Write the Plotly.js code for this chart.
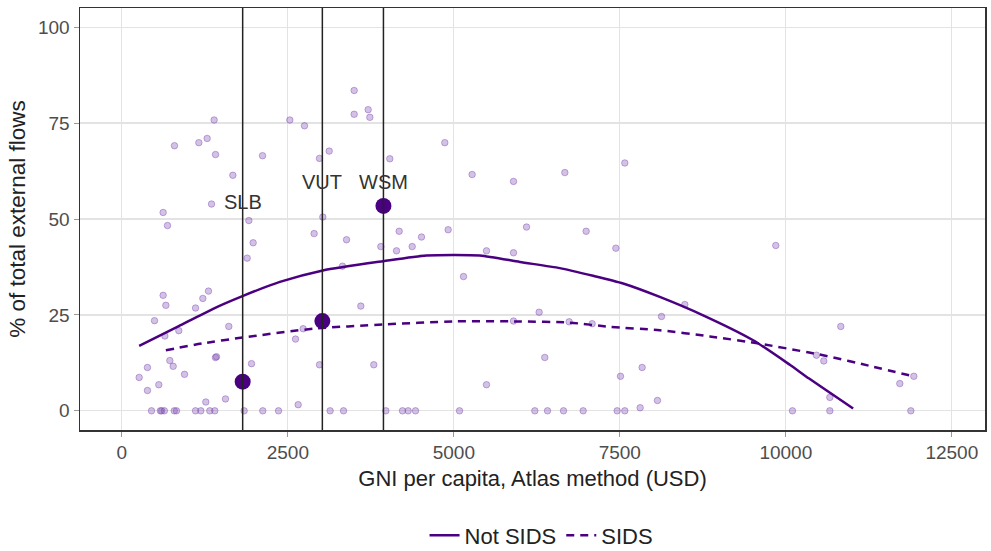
<!DOCTYPE html>
<html>
<head>
<meta charset="utf-8">
<script src="https://cdn.plot.ly/plotly-3.0.1.min.js"></script>
<style>html,body{margin:0;padding:0;background:#fff;}#chart{width:991px;height:551px;}</style>
</head>
<body>
<div id="chart"></div>
<script>
// Country observations: GNI per capita (USD) and % of total external flows
const gni = [1390, 793, 1160, 1285, 1411, 1672, 2119, 2530, 2751, 2977, 3123, 1351, 622, 1913, 3027,
  3499, 3499, 3710, 3735, 4036, 4864, 5276, 5899, 6672, 7575,
  688, 1978, 1888, 2896, 622, 663, 1305, 1220, 1110, 492, 1611, 858, 648, 2731, 2616, 1426, 1410,
  723, 773, 386, 261, 944, 1953, 2977, 557, 386, 1561, 1265, 2656,
  447, 580, 600, 640, 790, 823, 1110, 1190, 1325, 1400, 1842, 2123, 2360, 3137, 3339,
  4177, 4513, 4915, 6095, 3384, 3901, 4373, 4137, 5492, 5899, 3323, 5146, 3599, 6285, 5899, 6737,
  3795, 6370, 5492,
  3976, 4227, 4312, 4423, 5086, 6220, 6411, 6652,
  6993, 7440, 8479, 8128, 7083, 9849, 7836, 7510, 8067, 7806,
  6948, 7460, 7575, 10100,
  10828, 10572, 10462, 10663, 11717, 11928, 10663, 11883];
const share = [75.8, 69.1, 69.9, 71.0, 66.8, 61.4, 66.5, 75.8, 74.3, 65.8, 67.7, 53.9, 51.7, 49.6, 50.5,
  83.5, 77.3, 78.5, 76.5, 65.7, 69.9, 61.6, 59.8, 62.1, 64.6,
  48.3, 43.8, 39.8, 46.2, 30.1, 27.5, 31.2, 29.3, 26.8, 23.5, 22.0, 20.9, 19.5, 21.4, 18.7, 14.1, 13.9,
  13.1, 11.6, 11.3, 8.7, 9.5, 12.3, 12.0, 6.8, 5.3, 3.1, 2.3, 1.6,
  0, 0, 0, 0, 0, 0, 0, 0, 0, 0, 0, 0, 0, 0, 0,
  46.8, 45.3, 47.2, 47.9, 44.6, 42.8, 42.8, 41.7, 41.7, 41.2, 37.7, 35.0, 27.3, 25.7, 23.4, 23.2,
  12.0, 13.9, 6.8,
  0, 0, 0, 0, 0, 0, 0, 0,
  46.8, 42.4, 27.7, 24.6, 22.7, 43.1, 11.3, 9.0, 2.7, 0.8,
  0, 0, 0, 0,
  22.0, 13.0, 14.5, 3.5, 7.1, 9.0, 0, 0];

// Smoothed fits
const fitNotSidsX = [261, 858, 1375, 1817, 2380, 3027, 3936, 4588, 5392, 5994, 6596, 7098, 7550, 8102, 8755, 9508, 10060, 10351, 11014];
const fitNotSidsY = [16.9, 22.1, 26.6, 29.9, 33.6, 36.6, 39.0, 40.5, 40.5, 38.8, 37.2, 35.2, 33.2, 29.7, 24.9, 18.4, 12.0, 8.4, 0.6];
const fitSidsX = [663, 1225, 1817, 2881, 3936, 4991, 5994, 6737, 7349, 8102, 8855, 9608, 10351, 10562, 11316, 11917];
const fitSidsY = [15.8, 17.6, 19.1, 21.4, 22.5, 23.3, 23.3, 23.0, 21.9, 21.0, 19.4, 17.5, 15.2, 14.5, 11.5, 9.0];

// Highlighted countries
const hlCodes = ['SLB', 'VUT', 'WSM'];
const hlGni = [1820, 3020, 3940];
const hlShare = [7.6, 23.4, 53.4];
const hlLabelY = [54.4, 59.6, 59.6];

// Axis ticks
const xTicks = [0, 2500, 5000, 7500, 10000, 12500];
const yTicks = [0, 25, 50, 75, 100];

const purple = '#4B0082';
const FONT = 'Liberation Sans, Arial, sans-serif';

const traces = [
  {x: gni, y: share, type: 'scatter', mode: 'markers', showlegend: false, hoverinfo: 'skip',
   marker: {size: 6.5, color: 'rgba(120,70,175,0.33)', line: {width: 1, color: 'rgba(120,70,175,0.42)'}}},
  {x: fitNotSidsX, y: fitNotSidsY, type: 'scatter', mode: 'lines', name: 'Not SIDS',
   line: {color: purple, width: 2.5, shape: 'spline', smoothing: 0.6}},
  {x: fitSidsX, y: fitSidsY, type: 'scatter', mode: 'lines', name: 'SIDS',
   line: {color: purple, width: 2.5, dash: '8px,6px', shape: 'spline', smoothing: 0.6}},
  {x: hlGni, y: hlShare, type: 'scatter', mode: 'markers', showlegend: false,
   marker: {size: 16, color: purple}}
];

const shapes = hlGni.map(v => ({type: 'line', xref: 'x', yref: 'paper', x0: v, x1: v, y0: 0, y1: 1,
  line: {color: '#222', width: 1.5}, layer: 'above'}));

const annotations = hlCodes.map((c, i) => ({x: hlGni[i], y: hlLabelY[i], xref: 'x', yref: 'y', text: c,
  showarrow: false, font: {family: FONT, size: 20, color: '#333'}, bgcolor: 'rgba(0,0,0,0)'}));

const layout = {
  width: 991, height: 551,
  margin: {l: 80, r: 6, t: 8, b: 121, autoexpand: false},
  paper_bgcolor: '#fff', plot_bgcolor: '#fff',
  font: {family: FONT, color: '#333'},
  xaxis: {range: [-630, 13000], tickvals: xTicks, ticktext: xTicks.map(String),
    showgrid: true, gridcolor: '#e3e3e3', gridwidth: 1.2, zeroline: false,
    showline: true, mirror: true, linecolor: '#333', linewidth: 1.5,
    ticks: 'outside', ticklen: 5, tickcolor: '#999', tickfont: {family: FONT, size: 19, color: '#4d4d4d'},
    title: {text: 'GNI per capita, Atlas method (USD)', font: {family: FONT, size: 22, color: '#222'}, standoff: 8}},
  yaxis: {range: [-5, 105], tickvals: yTicks, ticktext: yTicks.map(String),
    showgrid: true, gridcolor: '#e3e3e3', gridwidth: 1.2, zeroline: false,
    showline: true, mirror: true, linecolor: '#333', linewidth: 1.5,
    ticks: 'outside', ticklen: 5, tickcolor: '#999', tickfont: {family: FONT, size: 19, color: '#4d4d4d'},
    title: {text: '% of total external flows', font: {family: FONT, size: 22.5, color: '#222'}, standoff: 6}},
  legend: {orientation: 'h', x: 0.51, xanchor: 'center', y: -0.25, yanchor: 'middle',
    font: {family: FONT, size: 22, color: '#222'}, bgcolor: 'rgba(0,0,0,0)'},
  shapes: shapes,
  annotations: annotations,
  showlegend: true
};

Plotly.newPlot('chart', traces, layout, {displayModeBar: false, staticPlot: true});
</script>
</body>
</html>
